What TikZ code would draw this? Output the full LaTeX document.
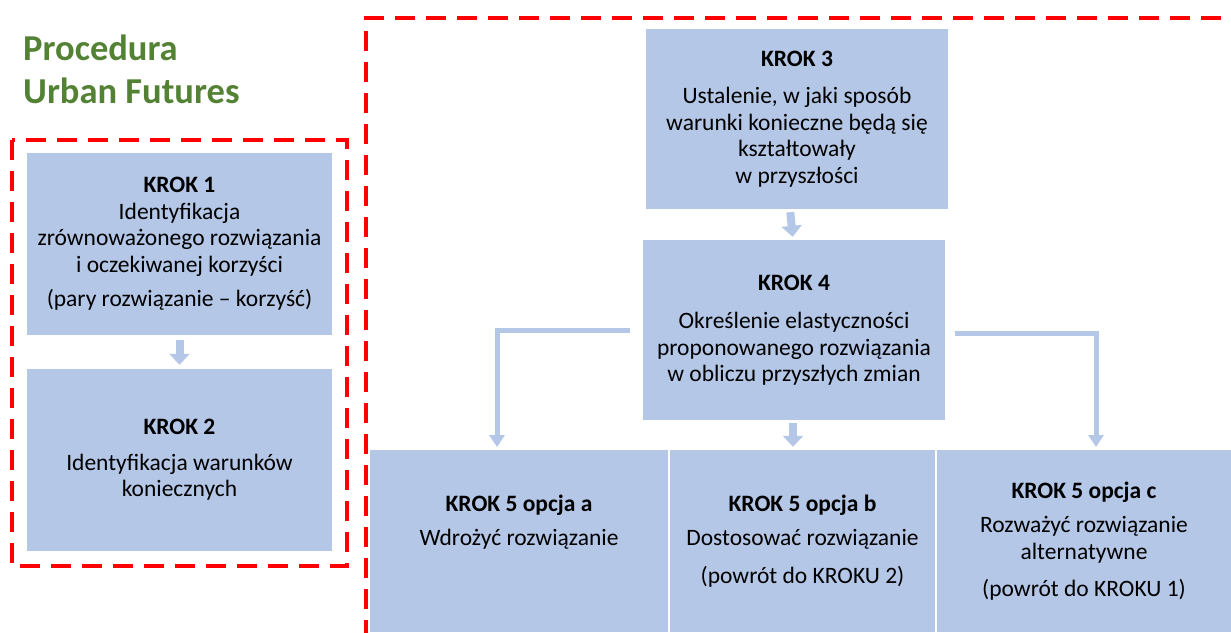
\documentclass[tikz,border=0pt]{standalone}
\usepackage{fontspec}
\setmainfont{Carlito}
\usetikzlibrary{arrows.meta}
\definecolor{krokblue}{HTML}{B4C7E7}
\definecolor{procgreen}{HTML}{548235}
\definecolor{framered}{HTML}{FF0000}
\tikzset{
	krok/.style={fill=krokblue, inner sep=0pt, align=center, font=\fontsize{23.5}{26.5}\selectfont},
	blockarrow/.style={draw=krokblue, line width=8pt, -{Triangle[width=20pt,length=11pt]}},
	elbowarrow/.style={draw=krokblue, line width=5pt, -{Triangle[width=15pt,length=12pt]}},
	framebox/.style={draw=framered, line width=4pt, dash pattern=on 20pt off 11pt}
}

\begin{document}
\begin{tikzpicture}[x=1pt,y=-1pt]
	\useasboundingbox (0,0) rectangle (1231,632);
	% title
	\node[anchor=north west, inner sep=0pt, align=left, text=procgreen,
		font=\fontsize{36.5}{43}\selectfont\bfseries] (title) at (23,35)
		{Procedura\\Urban Futures};
	% steps 1 and 2
	\node[krok, minimum width=305pt, minimum height=182pt] (krok1) at (179.5,244)
		{{\bfseries KROK 1}\\ Identyfikacja\\ zrównoważonego rozwiązania\\ i oczekiwanej korzyści\\[8pt] (pary rozwiązanie – korzyść)};
	\node[krok, minimum width=305pt, minimum height=182pt] (krok2) at (179.5,460)
		{{\bfseries KROK 2}\\[9pt] Identyfikacja warunków\\ koniecznych};
	% steps 3 and 4
	\node[krok, minimum width=302pt, minimum height=180pt] (krok3) at (797,119)
		{{\bfseries KROK 3}\\[11pt] Ustalenie, w jaki sposób\\ warunki konieczne będą się\\ kształtowały\\ w przyszłości};
	\node[krok, minimum width=302pt, minimum height=180pt] (krok4) at (794,330)
		{{\bfseries KROK 4}\\[12pt] Określenie elastyczności\\ proponowanego rozwiązania\\ w obliczu przyszłych zmian};
	% step 5 options
	\node[krok, minimum width=298pt, minimum height=182pt] (opta) at (519,541)
		{{\bfseries KROK 5 opcja a}\\[8pt] Wdrożyć rozwiązanie\\[11pt] \phantom{(powrót do KROKU 2)}};
	\node[krok, minimum width=265pt, minimum height=182pt] (optb) at (802.5,541)
		{{\bfseries KROK 5 opcja b}\\[8pt] Dostosować rozwiązanie\\[11pt] (powrót do KROKU 2)};
	\node[krok, minimum width=294pt, minimum height=182pt] (optc) at (1084,541)
		{{\bfseries KROK 5 opcja c}\\[8pt] Rozważyć rozwiązanie\\ alternatywne\\[11pt] (powrót do KROKU 1)};
	\coordinate (tipa) at (497,447);
	\coordinate (tipc) at (1096,447);
	% arrows
	\draw[blockarrow, shorten <=5pt, shorten >=4pt] (krok1.south) -- (krok2.north);
	\draw[blockarrow, shorten <=3pt, shorten >=3pt] ([xshift=-4pt]krok3.south -| krok4) -- ([xshift=-1pt]krok4.north);
	\draw[blockarrow, shorten <=3pt, shorten >=3pt] ([xshift=-1pt]krok4.south) -- ([xshift=-1pt]krok4.south |- optb.north);
	\draw[elbowarrow] ([xshift=-13pt]krok4.west) -| (tipa);
	\draw[elbowarrow] ([xshift=10pt,yshift=-3pt]krok4.east) -| (tipc);
	% dashed frames
	\draw[framebox] (12,140) rectangle (347,566);
	\draw[framebox] (366,640) -- (366,18) -- (1240,18);
\end{tikzpicture}
\end{document}
